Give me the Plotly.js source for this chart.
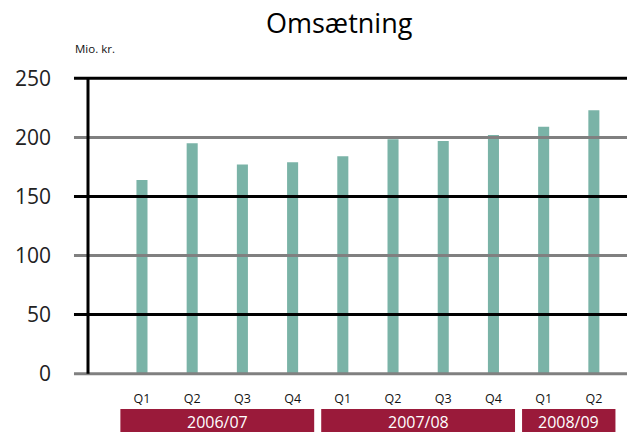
<!DOCTYPE html>
<html>
<head>
<meta charset="utf-8">
<script src="https://cdn.plot.ly/plotly-3.0.1.min.js"></script>
<style>html,body{margin:0;padding:0;background:#fff;}#chart{width:627px;height:432px;}</style>
</head>
<body>
<div id="chart"></div>
<script>
var quarters = ['Q1','Q2','Q3','Q4','Q1','Q2','Q3','Q4','Q1','Q2'];
var revenue = [164, 195, 177, 179, 184, 198.5, 197, 202, 209, 223];
var years = ['2006/07','2007/08','2008/09'];
var quartersPerYear = [4, 4, 2];
var yTicks = [0, 50, 100, 150, 200, 250];

var xIdx = quarters.map(function(_, i){ return i; });

var shapes = [];
var annotations = [];

// gridlines, alternating gray / black, extending left of the axis
yTicks.forEach(function(v, i){
  shapes.push({type:'line', xref:'paper', yref:'y', x0:-0.026, x1:1, y0:v, y1:v,
    line:{color: (i % 2 === 0) ? '#808080' : '#000000', width:3}, layer:'above'});
});
// vertical axis line
shapes.push({type:'line', xref:'paper', yref:'y', x0:0, x1:0, y0:0, y1:250,
  line:{color:'#000', width:3}, layer:'above'});

// year boxes
var start = 0;
years.forEach(function(yr, k){
  var end = start + quartersPerYear[k] - 1;
  shapes.push({type:'rect', xref:'x', yref:'paper', x0:start-0.43, x1:end+0.43,
    y0:-0.19, y1:-0.11, fillcolor:'#9a1a3a', line:{width:0}, layer:'above'});
  annotations.push({xref:'x', yref:'paper', x:(start+end)/2, y:-0.152, text:yr,
    showarrow:false, font:{family:'Open Sans', size:16, color:'#ffffff'}, yanchor:'middle'});
  start = end + 1;
});

annotations.push({xref:'paper', yref:'paper', x:0.4675, y:1.18, text:'Omsætning',
  showarrow:false, font:{family:'Open Sans', size:27, color:'#000'}, xanchor:'center', yanchor:'middle'});
annotations.push({xref:'paper', yref:'paper', x:0.0135, y:1.09, text:'Mio. kr.',
  showarrow:false, font:{family:'Open Sans', size:11.5, color:'#111'}, xanchor:'center', yanchor:'middle'});

var trace = {
  type:'bar', x:xIdx, y:revenue, width:0.22,
  marker:{color:'#7ab3a7', line:{width:0}},
  hoverinfo:'skip'
};

var layout = {
  width:627, height:432,
  margin:{l:88, r:0, t:76, b:56},
  paper_bgcolor:'#fff', plot_bgcolor:'#fff',
  showlegend:false,
  xaxis:{range:[-1.075, 9.66], tickmode:'array', tickvals:xIdx, ticktext:quarters,
    showgrid:false, zeroline:false, showline:false, ticks:'',
    ticklabelstandoff:13, tickfont:{family:'Open Sans', size:12.5, color:'#111'}},
  yaxis:{range:[-2, 252], tickmode:'array', tickvals:yTicks, showgrid:false, zeroline:false,
    showline:false, ticks:'', ticklabelstandoff:36,
    tickfont:{family:'Open Sans', size:21, color:'#222'}},
  shapes:shapes,
  annotations:annotations
};

Plotly.newPlot('chart', [trace], layout, {staticPlot:true, displayModeBar:false});
</script>
</body>
</html>
